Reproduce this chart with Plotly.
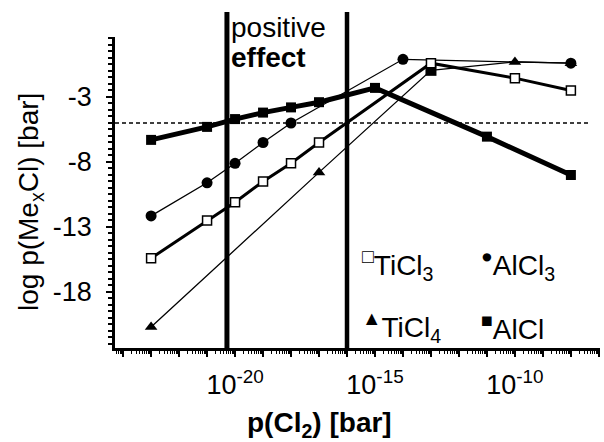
import plotly.graph_objects as go

# ---- data: log10 p(Cl2) [bar] and log p(MexCl) [bar] ----
ticl3_logp = [-23, -21, -20, -19, -18, -17, -13, -10, -8]
ticl3_val = [-15.4, -12.5, -11.1, -9.5, -8.1, -6.5, -0.4, -1.55, -2.5]

alcl3_logp = [-23, -21, -20, -19, -18, -14, -8]
alcl3_val = [-12.15, -9.6, -8.1, -6.5, -5.0, -0.1, -0.4]

ticl4_logp = [-23, -17, -13, -10, -8]
ticl4_val = [-20.7, -8.8, -0.95, -0.3, -0.4]
ticl4_symbols = ["triangle-up", "triangle-up", "square", "triangle-up", "triangle-up"]

alcl_logp = [-23, -21, -20, -19, -18, -17, -15, -11, -8]
alcl_val = [-6.3, -5.3, -4.7, -4.2, -3.8, -3.4, -2.3, -6.05, -9.0]

threshold = -5                      # dashed horizontal line
effect_bounds_logp = [-20.29, -16.0]  # vertical "positive effect" lines

y_ticks = [-18, -13, -8, -3]
x_label_decades = [-20, -15, -10]

FONT = "Liberation Sans, Arial, sans-serif"
FS = 28
TFS = 27

# plot-area pixel geometry (for placing annotations)
L, R, T, B = 115, 600, 37, 348
W, H = 604, 442
def px_x(p):
    return (p - L) / (R - L)
def px_y(p):
    return (B - p) / (B - T)

def p(lst):
    return [10.0 ** v for v in lst]

fig = go.Figure()

fig.add_trace(go.Scatter(
    x=p(alcl3_logp), y=alcl3_val, mode="lines+markers",
    line=dict(color="black", width=1.3),
    marker=dict(symbol="circle", size=11, color="black"),
    showlegend=False))

fig.add_trace(go.Scatter(
    x=p(ticl4_logp), y=ticl4_val, mode="lines+markers",
    line=dict(color="black", width=1.3),
    marker=dict(symbol=ticl4_symbols, size=11, color="black"),
    showlegend=False))

fig.add_trace(go.Scatter(
    x=p(ticl3_logp), y=ticl3_val, mode="lines+markers",
    line=dict(color="black", width=3),
    marker=dict(symbol="square", size=9, color="white",
                line=dict(color="black", width=1.5)),
    showlegend=False))

fig.add_trace(go.Scatter(
    x=p(alcl_logp), y=alcl_val, mode="lines+markers",
    line=dict(color="black", width=5),
    marker=dict(symbol="square", size=10, color="black"),
    showlegend=False))

# reference lines
fig.add_shape(type="line", xref="paper", yref="y", x0=0, x1=px_x(590),
              y0=threshold, y1=threshold,
              line=dict(color="black", width=1.3, dash="4px,3px"))
for xv, wv in zip(effect_bounds_logp, [5, 4.5]):
    fig.add_shape(type="line", xref="x", yref="paper",
                  x0=10.0 ** xv, x1=10.0 ** xv, y0=0, y1=px_y(12),
                  line=dict(color="black", width=wv))

major_x = list(range(-24, -6))
minor_x = [m * 10.0 ** k for k in range(-25, -6) for m in range(2, 10)]

fig.update_xaxes(
    type="log", range=[-24.29, -6.96],
    tickvals=[10.0 ** k for k in major_x],
    ticktext=[("10<sup>%d</sup>" % k if k in x_label_decades else "") for k in major_x],
    ticks="outside", ticklen=6, tickwidth=2, tickcolor="black",
    minor=dict(tickvals=minor_x, ticks="outside", ticklen=3, tickwidth=1, tickcolor="black"),
    showline=True, linecolor="black", linewidth=2.5,
    showgrid=False, zeroline=False,
    tickfont=dict(family=FONT, size=TFS, color="black"),
    ticklabelstandoff=5,
)
fig.update_yaxes(
    range=[-22.31, 1.615],
    tickvals=y_ticks, ticktext=[str(v) for v in y_ticks],
    ticks="outside", ticklen=6, tickwidth=2, tickcolor="black",
    minor=dict(dtick=0.5, tick0=0, ticks="outside", ticklen=4, tickwidth=1.5, tickcolor="black"),
    showline=True, linecolor="black", linewidth=2.5,
    showgrid=False, zeroline=False,
    tickfont=dict(family=FONT, size=TFS, color="black"),
    ticklabelstandoff=9,
)

ann = []
def add_text(text, xp, yp, xanchor="left", yanchor="middle", size=FS, angle=0):
    ann.append(dict(text=text, xref="paper", yref="paper", x=px_x(xp), y=px_y(yp),
                    xanchor=xanchor, yanchor=yanchor, showarrow=False, textangle=angle,
                    font=dict(family=FONT, size=size, color="black")))

add_text("positive", 229, 27)
add_text("<b>effect</b>", 229, 57)
add_text("<sup>□</sup>TiCl<sub>3</sub>", 360, 265)
add_text("<sup>●</sup>AlCl<sub>3</sub>", 479, 265)
add_text("<sup>▲</sup>TiCl<sub>4</sub>", 360, 327)
add_text("<sup>■</sup>AlCl", 479, 327)
add_text("<b>p(Cl<sub>2</sub>) [bar]</b>", 319, 424, xanchor="center")
add_text("log p(Me<sub>x</sub>Cl) [bar]", 30, 202, xanchor="center", angle=-90)

fig.update_layout(
    width=W, height=H,
    margin=dict(l=L, r=W - R, t=T, b=H - B, pad=0),
    paper_bgcolor="white", plot_bgcolor="white",
    font=dict(family=FONT, size=FS, color="black"),
    annotations=ann, showlegend=False,
)

fig.write_html("out.html")
